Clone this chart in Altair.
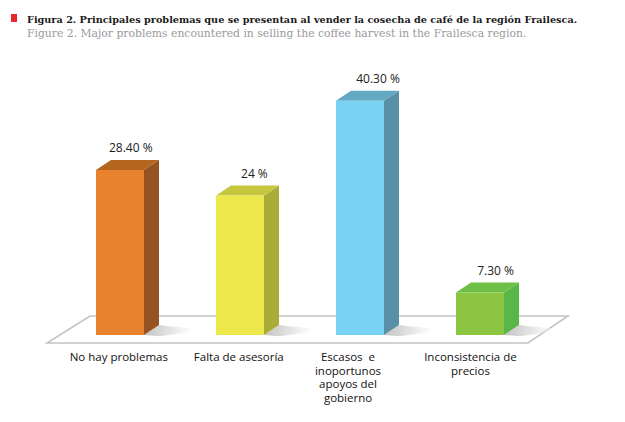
import altair as alt
import pandas as pd

# ---------------- data ----------------
categories = [
    "No hay problemas",
    "Falta de asesoría",
    "Escasos\u00a0 e\ninoportunos\napoyos del\ngobierno",
    "Inconsistencia de\nprecios",
]
values = [28.4, 24.0, 40.3, 7.3]
value_text = ["28.40 %", "24 %", "40.30 %", "7.30 %"]

front_colors = ["#E8822E", "#ECE84C", "#78D2F2", "#8BC541"]
side_colors = ["#975221", "#A9AC37", "#5891A7", "#58B748"]
top_colors = ["#B4661F", "#C6C73F", "#63A9C3", "#6EBF45"]

title_es = "Figura 2. Principales problemas que se presentan al vender la cosecha de café de la región Frailesca."
title_en = "Figure 2. Major problems encountered in selling the coffee harvest in the Frailesca region."

# small per-label horizontal nudges (category units)
label_shift = [-0.01, -0.01, -0.1, -0.08]
value_shift = [0.09, 0.12, 0.15, 0.13]

# pseudo-3D geometry (category units / value units)
HALF = 0.2
DX = 0.125
DY = 1.72
FLOOR_FRONT = -1.38
FLOOR_BACK = 3.27
floor_x = [-0.608, -0.25, 3.4, 3.733]

W, H = 609, 406
X_DOMAIN = [-112 / 120, (W - 112) / 120]
Y_DOMAIN = [-(H - 327) / 5.81, 327 / 5.81]

xs = alt.Scale(domain=X_DOMAIN, nice=False, zero=False)
ys = alt.Scale(domain=Y_DOMAIN, nice=False, zero=False)

# ---------------- tables ----------------
bars = pd.DataFrame({
    "i": range(4),
    "cat": categories,
    "v": values,
    "vt": value_text,
    "front": front_colors,
})
bars["L"] = bars["i"] - HALF
bars["R"] = bars["i"] + HALF
bars["zero"] = 0.0
bars["lx"] = bars["i"] + pd.Series(label_shift)
bars["vx"] = bars["i"] + pd.Series(value_shift)
bars["vy"] = bars["v"] + DY
bars["ly"] = FLOOR_FRONT

side_rows, top_rows, shadow_rows = [], [], []
for i, v in enumerate(values):
    L, R = i - HALF, i + HALF
    side_rows += [
        {"bar": i, "x": R, "y": 0.0, "y2": v, "c": side_colors[i]},
        {"bar": i, "x": R + DX, "y": DY, "y2": v + DY, "c": side_colors[i]},
    ]
    top_rows += [
        {"bar": i, "x": L, "y": v, "y2": v, "c": top_colors[i]},
        {"bar": i, "x": L + DX, "y": v, "y2": v + DY, "c": top_colors[i]},
        {"bar": i, "x": R, "y": v, "y2": v + DY, "c": top_colors[i]},
        {"bar": i, "x": R + DX, "y": v + DY, "y2": v + DY, "c": top_colors[i]},
    ]
    shadow_rows += [
        {"bar": i, "x": R, "y": 0.0, "y2": 0.0},
        {"bar": i, "x": R + DX, "y": -0.2, "y2": DY},
        {"bar": i, "x": R + 0.4, "y": 0.5, "y2": 1.1},
    ]
side_df = pd.DataFrame(side_rows)
top_df = pd.DataFrame(top_rows)
shadow_df = pd.DataFrame(shadow_rows)

floor_df = pd.DataFrame({
    "x": floor_x,
    "y": [FLOOR_FRONT, FLOOR_FRONT, FLOOR_FRONT, FLOOR_BACK],
    "y2": [FLOOR_FRONT, FLOOR_BACK, FLOOR_BACK, FLOOR_BACK],
})

# ---------------- layers ----------------
floor = alt.Chart(floor_df).mark_area(
    fill="white", stroke="#C4C4C4", strokeWidth=1.6, interpolate="linear"
).encode(
    x=alt.X("x:Q", scale=xs, axis=None),
    y=alt.Y("y:Q", scale=ys, axis=None),
    y2="y2:Q",
)

shadow = alt.Chart(shadow_df).mark_area(
    opacity=0.45,
    color=alt.Gradient(
        gradient="linear",
        stops=[alt.GradientStop(color="#7a7a7a", offset=0),
               alt.GradientStop(color="#ffffff", offset=1)],
        x1=0, x2=1, y1=0, y2=0,
    ),
).encode(
    x=alt.X("x:Q", scale=xs, axis=None),
    y=alt.Y("y:Q", scale=ys, axis=None),
    y2="y2:Q",
    detail="bar:N",
)

side = alt.Chart(side_df).mark_area().encode(
    x=alt.X("x:Q", scale=xs, axis=None),
    y=alt.Y("y:Q", scale=ys, axis=None),
    y2="y2:Q",
    color=alt.Color("c:N", scale=None),
    detail="bar:N",
)

top = alt.Chart(top_df).mark_area().encode(
    x=alt.X("x:Q", scale=xs, axis=None),
    y=alt.Y("y:Q", scale=ys, axis=None),
    y2="y2:Q",
    color=alt.Color("c:N", scale=None),
    detail="bar:N",
)

front = alt.Chart(bars).mark_rect().encode(
    x=alt.X("L:Q", scale=xs, axis=None),
    x2="R:Q",
    y=alt.Y("zero:Q", scale=ys, axis=None),
    y2="v:Q",
    color=alt.Color("front:N", scale=None),
)

value_labels = alt.Chart(bars).mark_text(
    font="Open Sans", fontSize=12, color="#222222", baseline="alphabetic", dy=-8
).encode(
    x=alt.X("vx:Q", scale=xs, axis=None),
    y=alt.Y("vy:Q", scale=ys, axis=None),
    text="vt:N",
)

cat_labels = alt.Chart(bars).mark_text(
    font="Open Sans", fontSize=11.5, color="#111111", baseline="top", dy=9,
    lineBreak="\n", lineHeight=13.5,
).encode(
    x=alt.X("lx:Q", scale=xs, axis=None),
    y=alt.Y("ly:Q", scale=ys, axis=None),
    text="cat:N",
)

one = pd.DataFrame({"t1": [title_es], "t2": [title_en]})
red_box = alt.Chart(one).mark_rect(color="#E8262B").encode(
    x=alt.value(3), x2=alt.value(9), y=alt.value(6), y2=alt.value(14)
)
t1 = alt.Chart(one).mark_text(
    font="DejaVu Serif", fontSize=9.7, fontWeight="bold", color="#1a1a1a",
    align="left", baseline="alphabetic",
).encode(x=alt.value(19), y=alt.value(14.5), text="t1:N")
t2 = alt.Chart(one).mark_text(
    font="DejaVu Serif", fontSize=10.8, color="#9a9a9a",
    align="left", baseline="alphabetic",
).encode(x=alt.value(19), y=alt.value(29), text="t2:N")

chart = alt.layer(
    floor, shadow, side, top, front, value_labels, cat_labels, red_box, t1, t2
).properties(
    width=W, height=H,
    autosize=alt.AutoSizeParams(type="none"),
    padding=0,
).configure_view(stroke=None)

chart.save("out.html", embed_options={"renderer": "svg", "actions": False})
